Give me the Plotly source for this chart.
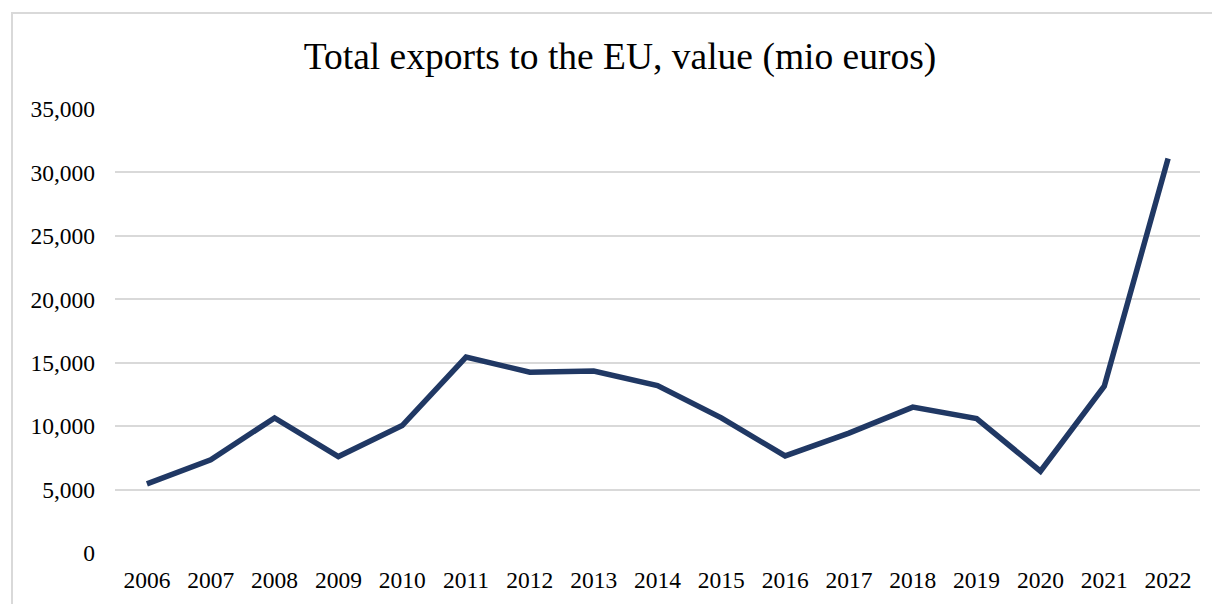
import plotly.graph_objects as go

# Total exports to the EU, million euros
years = ["2006", "2007", "2008", "2009", "2010", "2011", "2012", "2013", "2014",
         "2015", "2016", "2017", "2018", "2019", "2020", "2021", "2022"]
exports = [5450, 7350, 10650, 7600, 10050, 15450, 14250, 14350, 13200,
           10650, 7650, 9450, 11500, 10600, 6450, 13150, 31100]

y_ticks = [0, 5000, 10000, 15000, 20000, 25000, 30000, 35000]
y_tick_labels = ["0", "5,000", "10,000", "15,000", "20,000", "25,000", "30,000", "35,000"]

W, H = 1212, 604
ML, MR, MT, MB = 115, 12, 109, 51
pw, ph = W - ML - MR, H - MT - MB

serif = "Liberation Serif, Times New Roman, serif"

fig = go.Figure()
fig.add_trace(go.Scatter(
    x=years, y=exports, mode="lines",
    line=dict(color="#203864", width=5.5),
    hoverinfo="x+y",
))

# light frame around the chart area (runs off the right and bottom edges)
fig.add_shape(
    type="rect", xref="paper", yref="paper", layer="below",
    x0=(12 - ML) / pw, x1=(W + 20 - ML) / pw,
    y0=-(MB + 20) / ph, y1=1 + (MT - 13) / ph,
    line=dict(color="#d9d9d9", width=2), fillcolor="rgba(0,0,0,0)",
)

fig.update_layout(
    width=W, height=H,
    margin=dict(l=ML, r=MR, t=MT, b=MB),
    paper_bgcolor="white", plot_bgcolor="white",
    showlegend=False,
    title=dict(
        text="Total exports to the EU, value (mio euros)",
        x=620 / W, xanchor="center",
        y=1 - 56 / H, yanchor="middle",
        font=dict(family=serif, size=37.5, color="#000000"),
    ),
    font=dict(family=serif, color="#000000"),
)

fig.update_xaxes(
    type="category", range=[-0.5, len(years) - 0.5],
    showgrid=False, showline=False, zeroline=False, ticks="",
    tickfont=dict(family=serif, size=23.5, color="#000000"),
    ticklabelstandoff=10,
)
fig.update_yaxes(
    range=[0, 35000], tickvals=y_ticks, ticktext=y_tick_labels,
    showgrid=True, gridcolor="#d9d9d9", gridwidth=2,
    zeroline=False, showline=False, ticks="",
    tickfont=dict(family=serif, size=23.5, color="#000000"),
    ticklabelstandoff=19,
)

fig.write_html("out.html")
